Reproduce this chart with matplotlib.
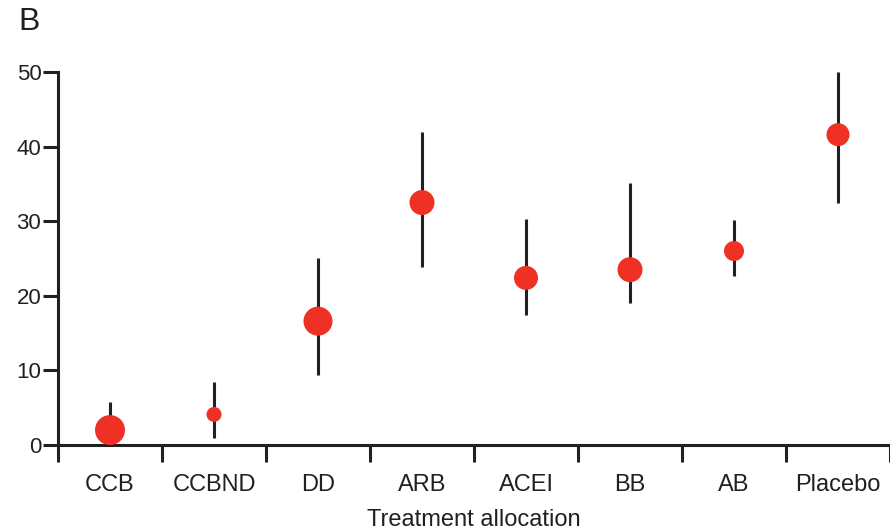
import numpy as np
import matplotlib.pyplot as plt

categories = ["CCB", "CCBND", "DD", "ARB", "ACEI", "BB", "AB", "Placebo"]
estimate = [2.0, 4.1, 16.6, 32.5, 22.4, 23.5, 26.0, 41.6]
lower = [0.0, 0.9, 9.4, 23.9, 17.4, 19.1, 22.7, 32.4]
upper = [5.7, 8.5, 25.1, 42.0, 30.3, 35.1, 30.2, 50.0]
marker_diam = [30, 15, 29, 25, 24, 25, 20, 23]  # px, weight of each group

RED = "#EE3124"
INK = "#231F20"

plt.rcParams["font.family"] = ["Liberation Sans", "DejaVu Sans"]

fig = plt.figure(figsize=(8.9, 5.32), dpi=100)
ax = fig.add_axes([58 / 890, 87 / 532, 1 - 58 / 890, 373 / 532])

x = np.arange(len(categories))
ax.vlines(x, lower, upper, color=INK, linewidth=2.2, zorder=2)
sizes = (np.array(marker_diam) * 72 / 100) ** 2
ax.scatter(x, estimate, s=sizes, color=RED, edgecolors="none", zorder=3)

ax.set_xlim(-0.5, 7.5)
ax.set_ylim(0, 50)
ax.set_yticks([0, 10, 20, 30, 40, 50])
ax.set_xticks(x)
ax.set_xticklabels(categories)
ax.set_xticks(np.arange(-0.5, 8.0, 1.0), minor=True)

ax.spines["top"].set_visible(False)
ax.spines["right"].set_visible(False)
for side in ["left", "bottom"]:
    ax.spines[side].set_linewidth(2.2)
    ax.spines[side].set_color(INK)
ax.spines["left"].set_bounds(0, 50)

ax.tick_params(axis="y", length=11, width=2.2, color=INK, labelsize=16,
               labelcolor=INK, pad=1)
ax.tick_params(axis="x", which="major", length=0, labelsize=17,
               labelcolor=INK, pad=21)
ax.tick_params(axis="x", which="minor", length=12, width=2.2, color=INK)

ax.set_xlabel("Treatment allocation", fontsize=17, color=INK, labelpad=9)
fig.text(18 / 890, 1 - 22 / 532, "B", fontsize=23, color=INK,
         ha="left", va="center")

fig.savefig("out.png", dpi=100)
